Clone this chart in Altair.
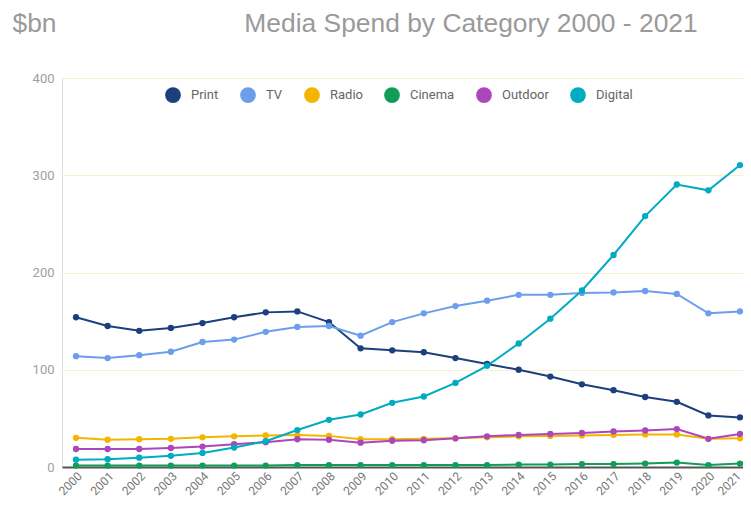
import altair as alt
import pandas as pd

years = list(range(2000, 2022))
series_names = ["Print", "TV", "Radio", "Cinema", "Outdoor", "Digital"]
series_colors = ["#1c3f7e", "#6d9eeb", "#f4b400", "#0f9d58", "#ab47bc", "#00acc1"]

print_spend = [154, 145, 140, 143, 148, 154, 159, 160, 149, 122, 120, 118, 112, 106, 100, 93, 85, 79, 72, 67, 53, 51]
tv_spend = [114, 112, 115, 118.5, 128.5, 131, 139, 144, 145, 135, 149, 158, 165.5, 171, 177, 177, 179, 179.5, 181, 178, 158, 160]
radio_spend = [30, 28, 28.5, 29, 30.5, 31.5, 32.5, 33, 32, 28.5, 28.5, 29, 29.5, 30.5, 31.5, 32, 32.5, 33, 33.5, 33.5, 29, 29.5]
cinema_spend = [1.5, 1.5, 1.5, 1.5, 1.5, 1.5, 1.5, 2, 2, 2, 2, 2, 2, 2, 2.5, 2.5, 3, 3, 3.5, 4.5, 2, 3.5]
outdoor_spend = [18.5, 18.5, 18.5, 19.5, 21, 23.5, 25.5, 28.5, 28, 25, 27, 27.5, 29.5, 31.5, 33, 34, 35, 36.5, 37.5, 39, 29, 34]
digital_spend = [7.5, 8, 9.5, 11.5, 14.5, 20, 26.5, 38, 48.5, 54, 66, 72.5, 86.5, 104, 127, 152.5, 181.5, 218, 258, 290.5, 284.5, 310.5]

y_ticks = [0, 100, 200, 300, 400]
title_text = "Media Spend by Category 2000 - 2021"
unit_text = "$bn"

all_values = [print_spend, tv_spend, radio_spend, cinema_spend, outdoor_spend, digital_spend]
rows = []
for name, vals in zip(series_names, all_values):
    for yr, v in zip(years, vals):
        rows.append({"Year": yr, "Category": name, "Spend": v})
df = pd.DataFrame(rows)

W, H = 681, 389

x_enc = alt.X("Year:Q",
              scale=alt.Scale(domain=[1999.557, 2021.094], nice=False, zero=False),
              axis=alt.Axis(values=years, format="d", labelAngle=-45, grid=False, ticks=False,
                            domainColor="#555555", domainWidth=2, labelColor="#777777",
                            labelFontSize=12, labelFont="Roboto", labelPadding=3, title=None,
                            labelOverlap=False, labelFlush=False,
                            labelOffset={"condition": {"test": "datum.value == 2021", "value": -5},
                                         "value": 0}))
y_enc = alt.Y("Spend:Q",
              scale=alt.Scale(domain=[0, 400], nice=False),
              axis=alt.Axis(values=y_ticks, grid=True, gridColor="#fbefc6", gridWidth=1,
                            domain=False, ticks=False, labelColor="#a0a0a0", labelFontSize=13,
                            labelFont="Roboto", labelPadding=8, title=None))
color_enc = alt.Color("Category:N",
                      scale=alt.Scale(domain=series_names, range=series_colors),
                      sort=series_names,
                      legend=alt.Legend(orient="none", legendX=103, legendY=9, direction="horizontal",
                                        title=None, symbolType="circle", symbolSize=250,
                                        symbolStrokeWidth=0, symbolOpacity=1,
                                        labelFont="Roboto", labelFontSize=13, labelColor="#666666",
                                        labelOffset=10, columnPadding=21))

lines = alt.Chart(df).mark_line(strokeWidth=2).encode(x=x_enc, y=y_enc, color=color_enc)
points = alt.Chart(df).mark_circle(size=40, opacity=1).encode(x=x_enc, y=y_enc, color=color_enc)

title_df = pd.DataFrame({"t": [title_text]})
unit_df = pd.DataFrame({"t": [unit_text]})
title_mark = alt.Chart(title_df).mark_text(
    font="Liberation Sans", fontSize=26.4, color="#9a9a9a",
    align="center", baseline="alphabetic"
).encode(text="t:N", x=alt.value(409), y=alt.value(-46))
unit_mark = alt.Chart(unit_df).mark_text(
    font="Liberation Sans", fontSize=26.4, color="#9a9a9a",
    align="left", baseline="alphabetic"
).encode(text="t:N", x=alt.value(-49.5), y=alt.value(-46))

chart = alt.layer(lines, points, title_mark, unit_mark).properties(
    width=W, height=H,
    autosize=alt.AutoSizeParams(type="none"),
    padding={"left": 54, "top": 70, "right": 0, "bottom": 32},
).configure_view(stroke=None).configure(background="white")

chart.save("out.html", embed_options={"renderer": "svg", "actions": False})
